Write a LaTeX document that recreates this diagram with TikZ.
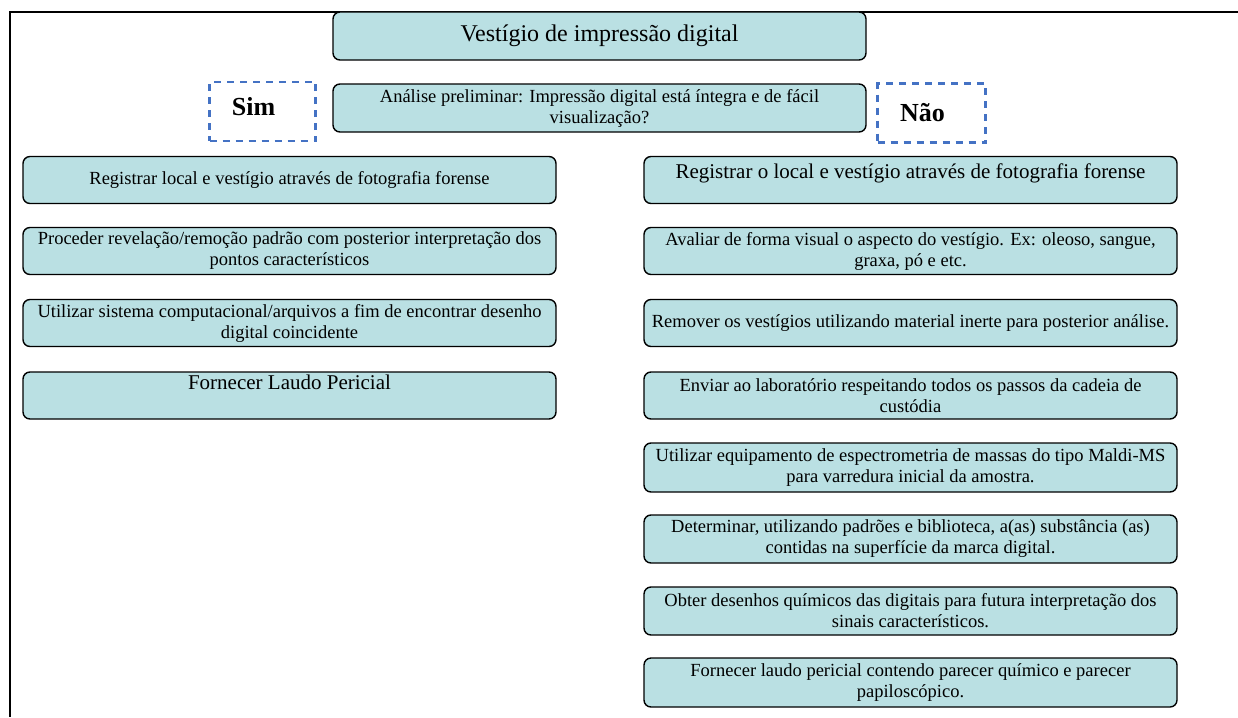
\documentclass[tikz,border=0pt]{standalone}
\usepackage{fontspec}
\setmainfont{Liberation Serif}
\definecolor{boxfill}{RGB}{186,224,227}
\definecolor{dashblue}{RGB}{68,114,196}
\tikzset{
  stepbox/.style={draw=black, line width=1.4pt, rounded corners=7pt, fill=boxfill,
    minimum width=533pt, minimum height=47pt, inner sep=0pt, align=center,
    font=\fontsize{18.5}{21}\selectfont},
  bigtext/.style={font=\fontsize{21}{24}\selectfont},
  answer/.style={draw=dashblue, line width=2.5pt, dash pattern=on 7pt off 6pt,
    minimum width=106pt, minimum height=59pt, inner sep=0pt,
    font=\fontsize{26}{28}\selectfont\bfseries},
  frameline/.style={draw=black, line width=1.2pt}
}
\begin{document}
\begin{tikzpicture}[x=1pt,y=-1pt]
\useasboundingbox (0,0) rectangle (1238,717);
\coordinate (fTL) at (10,12);
\coordinate (fTR) at (1238,12);
\coordinate (fBL) at (10,717);
\draw[frameline] (fTR) -- (fTL) -- (fBL);

\node[stepbox, minimum height=48pt, font=\fontsize{24}{26}\selectfont] (title) at (599.5,36) {Vestígio de impressão digital};
\node[stepbox, minimum height=48pt] (analise) at (599.5,108) {Análise preliminar: Impressão digital está íntegra e de fácil\\visualização?};
\node[answer, text height=18pt, text depth=10pt] (sim) at (262.5,111.5) {Sim\hspace*{18pt}};
\node[answer, minimum width=108pt] (nao) at (931.5,113) {Não\hspace*{18pt}};

% left column
\node[stepbox] (l1) at (289.5,180) {Registrar local e vestígio através de fotografia forense};
\node[stepbox] (l2) at (289.5,251) {Proceder revelação/remoção padrão com posterior interpretação dos\\pontos característicos};
\node[stepbox] (l3) at (289.5,323) {Utilizar sistema computacional/arquivos a fim de encontrar desenho\\digital coincidente};
\node[stepbox, bigtext, text height=15pt, text depth=28pt] (l4) at (289.5,395.5) {Fornecer Laudo Pericial};

% right column
\node[stepbox, bigtext, text height=15pt, text depth=18pt] (r1) at (910.5,180) {Registrar o local e vestígio através de fotografia forense};
\node[stepbox] (r2) at (910.5,251) {Avaliar de forma visual o aspecto do vestígio. Ex: oleoso, sangue,\\graxa, pó e etc.};
\node[stepbox] (r3) at (910.5,323) {Remover os vestígios utilizando material inerte para posterior análise.};
\node[stepbox] (r4) at (910.5,395.5) {Enviar ao laboratório respeitando todos os passos da cadeia de\\custódia};
\node[stepbox, minimum height=49pt] (r5) at (910.5,467.5) {Utilizar equipamento de espectrometria de massas do tipo Maldi-MS\\para varredura inicial da amostra.};
\node[stepbox, minimum height=48pt] (r6) at (910.5,539) {Determinar, utilizando padrões e biblioteca, a(as) substância (as)\\contidas na superfície da marca digital.};
\node[stepbox, minimum height=48pt] (r7) at (910.5,611) {Obter desenhos químicos das digitais para futura interpretação dos\\sinais característicos.};
\node[stepbox, minimum height=49pt] (r8) at (910.5,682.5) {Fornecer laudo pericial contendo parecer químico e parecer\\papiloscópico.};
\end{tikzpicture}
\end{document}
